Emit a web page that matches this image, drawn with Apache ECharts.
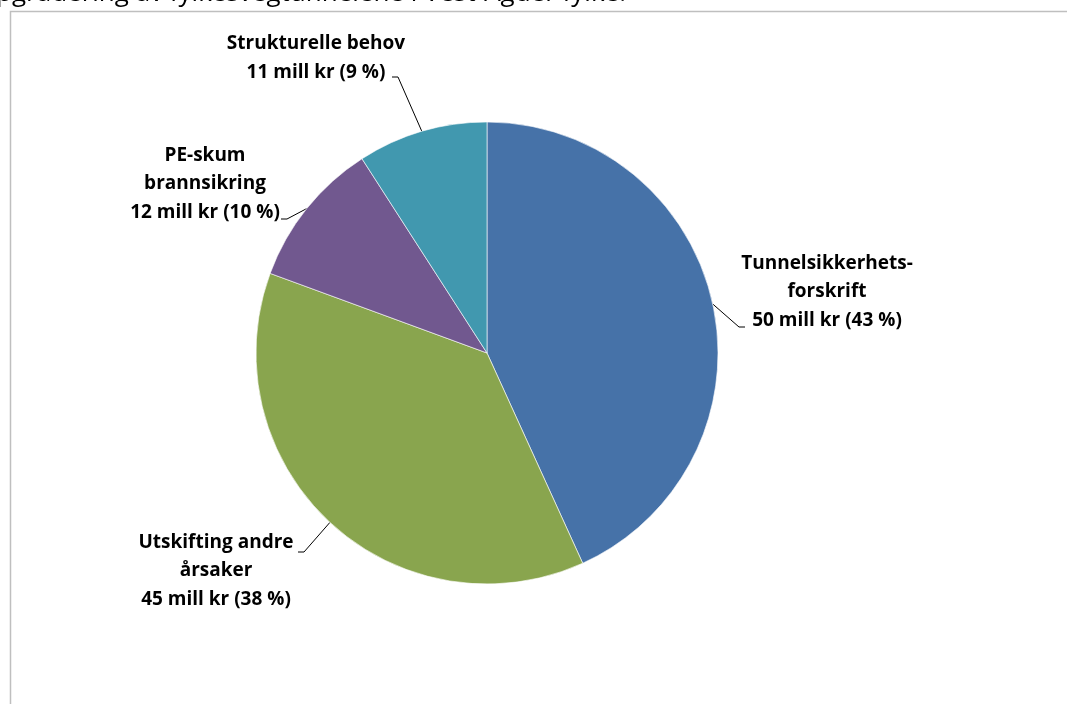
<!DOCTYPE html>
<html>
<head>
<meta charset="utf-8">
<script src="https://cdn.jsdelivr.net/npm/echarts@6/dist/echarts.min.js"></script>
<style>
  html, body { margin: 0; padding: 0; background: #fff; }
  #chart { width: 1067px; height: 704px; }
</style>
</head>
<body>
<div id="chart"></div>
<script>
// categories, clockwise from 12 o'clock
const names = ["Tunnelsikkerhets-\nforskrift", "Utskifting andre\nårsaker", "PE-skum\nbrannsikring", "Strukturelle behov"];
const amounts = [50, 45, 12, 11]; // mill kr
const pcts = [43, 38, 10, 9];
// slice sizes
const shares = [43.2, 37.4, 10.3, 9.1];
const colors = ["#4672A8", "#89A54E", "#71588F", "#4198AF"];

// label block centres and where each leader line meets its text (x, y, elbow side)
const labelPos = [[827, 292], [216, 571], [205, 184], [316, 58]];
const leaderEnd = [[745, 327, -1], [298, 552, 1], [281, 219, 1], [392, 77, 1]];

const chart = echarts.init(document.getElementById("chart"));
const font = "'Open Sans', sans-serif";

chart.setOption({
  animation: false,
  textStyle: { fontFamily: font },
  graphic: [
    {
      type: "rect",
      shape: { x: 10.5, y: 11.5, width: 1200, height: 900 },
      style: { fill: "none", stroke: "#BFBFBF", lineWidth: 1.5 },
      silent: true
    },
    {
      type: "text",
      x: 626,
      y: -19,
      style: {
        text: "Oppgradering av fylkesvegtunnelene i Vest-Agder fylke.",
        font: "26px " + font,
        fill: "#000",
        align: "right"
      },
      silent: true
    }
  ],
  series: [
    {
      type: "pie",
      center: [487, 353],
      radius: 231,
      startAngle: 90,
      clockwise: true,
      data: names.map((n, i) => ({
        name: n,
        value: shares[i],
        itemStyle: { color: colors[i] }
      })),
      itemStyle: { borderColor: "rgba(255,255,255,0.6)", borderWidth: 1 },
      label: {
        show: true,
        position: "outside",
        color: "#000",
        fontFamily: font,
        fontWeight: "bold",
        fontSize: 19,
        lineHeight: 28.5,
        align: "center",
        formatter: (p) => p.name + "\n" + amounts[p.dataIndex] + " mill kr (" + pcts[p.dataIndex] + " %)"
      },
      labelLine: {
        show: true,
        length: 10,
        length2: 10,
        lineStyle: { color: "#000", width: 1 }
      },
      labelLayout: (p) => {
        const i = p.dataIndex;
        const e = leaderEnd[i];
        const anchor = p.labelLinePoints ? p.labelLinePoints[0] : null;
        const out = {
          x: labelPos[i][0],
          y: labelPos[i][1],
          align: "center",
          verticalAlign: "middle"
        };
        if (anchor) {
          out.labelLinePoints = [anchor, [e[0] + e[2] * 6, e[1]], [e[0], e[1]]];
        }
        return out;
      },
      emphasis: { disabled: true }
    }
  ]
});
</script>
</body>
</html>
